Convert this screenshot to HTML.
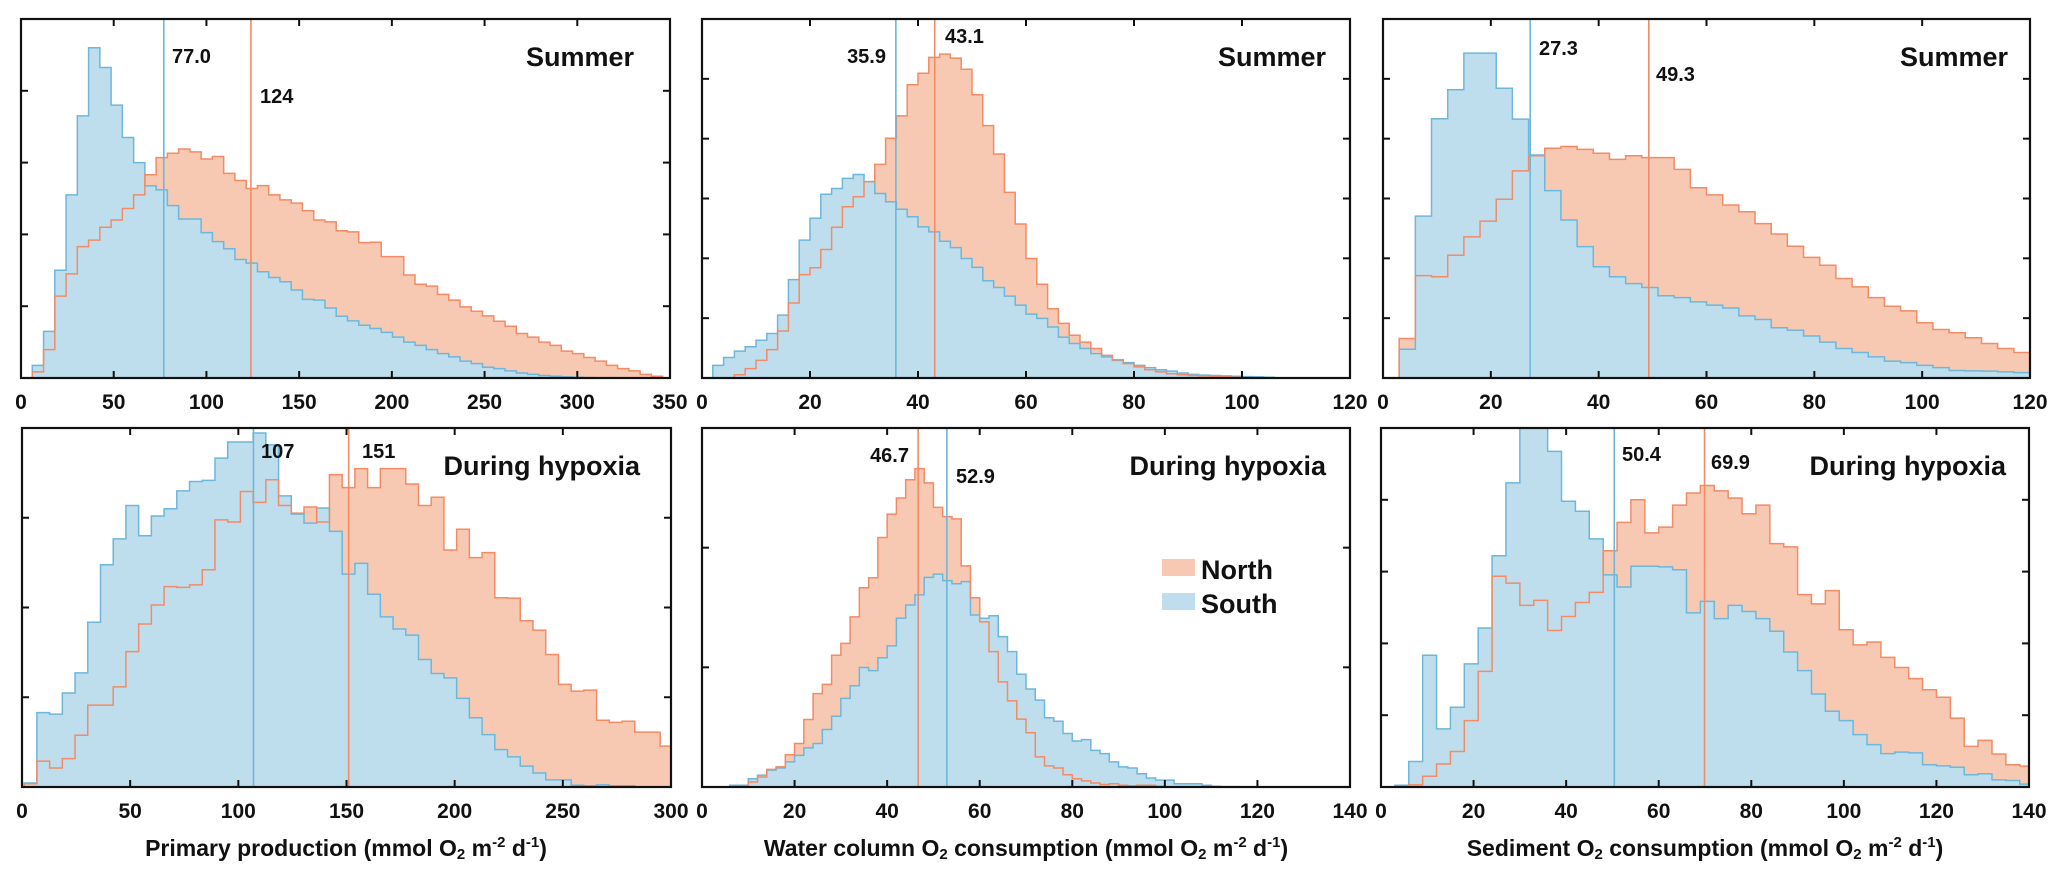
<!DOCTYPE html>
<html><head><meta charset="utf-8"><style>
html,body{margin:0;padding:0;background:#fff;}
svg{display:block;font-family:"Liberation Sans",Arial,sans-serif;}
</style></head><body>
<svg id="chart" width="2067" height="881" viewBox="0 0 2067 881" xmlns="http://www.w3.org/2000/svg"></svg>
<script>
// ---- data (values in % of axis height) ----
const p1Start = 6.1, p1Width = 6.07;
const p1South = [3.5,13,30,51,73,92,86.5,76,67,60,53.5,52.4,48,44.3,44.3,40.5,38,36,33,32,29.6,28,26.8,24.5,21.9,21.7,19.5,17.2,15.9,14.7,13.8,12.7,11.4,10,9.1,7.9,6.8,5.9,4.7,4,3,2.6,2,1.4,1,0.7,0.5,0.3,0.2,0.1];
const p1North = [1.7,7.9,22.8,29,36.6,38.4,42,44,47.2,51,56.6,61.4,62.6,63.8,63,61,61.7,57,55,52.8,53.6,51,49.6,48.7,46.6,44,43.5,41,40.7,37.7,37.8,33.8,33.8,28.7,26.1,25.6,23.3,21.7,19.8,18.6,17.3,15.8,14.4,12.4,11.4,10,9.1,7.5,6.8,5.7,4.7,3.5,2.6,2,1,0.5];
const p2Start = 2, p2Width = 2;
const p2South = [3.5,5.7,7.5,8.7,10.5,12.4,17.5,27.4,38.4,44.5,51.2,52.8,55.6,56.7,54.7,51.4,49.1,47,44.9,42.1,40.7,38.1,36.3,33.3,30.8,27.1,25.2,22.8,20.3,17.8,16.6,14.2,11.4,9.6,8.2,6.8,5.9,4.9,4.3,3.5,2.9,2.3,1.9,1.4,1,0.8,0.7,0.6,0.5,0.4,0.3,0.2];
const p2NorthStart = 6;
const p2North = [0.9,2.6,4.9,7.9,13.1,20.9,28.8,30.7,35.8,42,47.7,50.5,54.7,59.5,66.8,73,81.7,84.9,89.3,90.2,89.1,86,78.9,70.3,62.4,51.7,42.9,33.3,26.1,19.3,15.2,11.9,10,8.2,6.3,5.1,4,3.1,2.3,1.7,1.2,0.9,0.7,0.6,0.5,0.3,0.2];
const p3Start = 3, p3Width = 3;
const p3South = [8,45.1,72.2,80.3,90.5,90.5,80.7,72.1,62.1,52.2,44,36.6,31,28.2,26.3,25.2,22.9,22.4,21.2,20.3,19.5,17.3,16.3,14,13.3,11.7,10,8.2,7.1,5.9,4.7,4.3,3.5,2.9,2.1,2,1.9,1.7,1.5];
const p3North = [11,28.5,28.2,34.2,39.3,43.7,49.8,57.7,61.9,64,64.5,63.7,62.6,60.9,61.9,61.4,61.4,58.1,53,51,48.2,46.3,43,40.1,36.7,33.6,31.4,27.7,25.4,22.4,20,18.7,15.4,13.5,12.6,11.2,9.6,8.2,7.1];
const b1Start = 1.0, b1Width = 5.88;
const b1South = [1.1,20.7,20.3,26.2,31.8,45.9,61.9,69.1,78.4,70,75.5,77.5,82.5,85.1,85.4,91.6,96.1,96.1,98.6,95.3,81.1,76,73.5,77.7,71.2,59.3,62.3,53.7,47.4,44,42.3,35.5,31.6,30.4,24.7,19.3,14.6,10.4,8.4,5.8,3.9,2,2,0.5,0.3,0.6,0.3,0.3,0,0,0];
const b1North = [0.9,7.2,5.3,7.9,14.4,22.8,22.8,27.9,37.7,45.4,50.7,55.8,55.6,56.3,60.5,74.4,73.8,82.3,79.3,85.6,78.4,76.3,78,73.8,87,83.4,88.7,83.4,88.7,88.7,84.4,78.4,80.7,66,71.8,63.9,65.3,52.7,52.6,46.3,43.7,36.9,28.6,26.7,27,18.6,18,18.3,15.3,15.3,11.4];
const b2Start = 6, b2Width = 2;
const b2South = [0.5,0.5,2.3,3.3,4.7,5.3,7,8.8,10.9,12.1,16,19.7,24.7,28.2,33.3,32.4,36,39.3,47,50.7,53.5,58.4,59.3,57.5,56.6,57.2,47.9,47,47.7,41.9,37.7,31.4,27.3,24.2,19.3,18.3,14.9,12.8,13.2,10.2,9.3,7,5.6,5.3,3.7,2.5,1.9,1.9,0.9,0.9,0.9,0.5,0.2,0.1,0.1];
const b2North = [0.2,0.2,1.4,2.8,4.9,5.6,9,12.1,18.8,26,28.6,36.7,40,47.4,55.5,58.3,69.5,76,80.5,85.6,88.7,84.7,77.9,75.3,74.7,61.6,52.7,46,37.7,29.3,24,18.9,15.1,8.4,5.9,5.3,3.4,2.3,1.7,1.1,0.7,0.9,0.5,0.3,0.5,0.5,0.2];
const b3Start = 3, b3Width = 3;
const b3South = [0.5,7.1,36.7,16.2,22.2,34.3,44.3,64.4,84.7,105,105,93.5,79.6,76.8,69.1,59.1,55.7,61.5,61.5,61.3,60.5,48.5,51.7,46.9,50.6,48.9,46.9,43.4,37.6,32.4,25.9,21.1,18.5,14.6,11.8,9.3,9.7,9.5,6.2,5.9,5.5,3.4,3.7,2,1.8,0.8];
const b3North = [0.2,0.6,3,6.4,9.9,18.5,32.2,58.7,56.8,50.6,52,43.6,47.5,51.4,54.2,65.8,73.7,80,70.8,72.4,78.5,81.9,84,82.5,80.5,76.1,78.5,67.8,66.9,53.6,51,54.7,43.8,39.6,40.4,36.1,33.3,30.2,27.1,25,19.2,11.3,13,9.2,6.2,5.8];
const meansTop = [[77.0,124],[35.9,43.1],[27.3,49.3]];
const meansBottom = [[107,151],[52.9,46.7],[50.4,69.9]];

const NS='http://www.w3.org/2000/svg';
const svg=document.getElementById('chart');
function mk(tag,attrs,parent){const e=document.createElementNS(NS,tag);for(const k in attrs)e.setAttribute(k,attrs[k]);(parent||svg).appendChild(e);return e;}
const BLUE_F='#bfdeed',BLUE_S='#6db7da',OR_F='#f8c9b2',OR_S='#f28b66';
let clipId=0;

function stepPath(start,width,vals,xs,ys,B){
  let d='M'+xs(start)+','+B;
  vals.forEach((v,i)=>{d+=' L'+xs(start+i*width)+','+ys(v)+' L'+xs(start+(i+1)*width)+','+ys(v);});
  d+=' L'+xs(start+vals.length*width)+','+B+' Z';
  return d;
}

function panel(p){
  const g=mk('g',{});
  
  
  const xs=v=>p.L+(v/p.xmax)*(p.R-p.L);
  const ys=v=>p.B-(v/100)*(p.B-p.T);
  const cid='c'+(clipId++);
  const cp=mk('clipPath',{id:cid},g);mk('rect',{x:p.L,y:p.T,width:p.R-p.L,height:p.B-p.T},cp);
  const inner=mk('g',{'clip-path':'url(#'+cid+')'},g);
  const nf=mk('path',{d:stepPath(p.nStart,p.nWidth,p.north,xs,ys,p.B),fill:OR_F,stroke:'none'},inner);
  
  
  const sf=mk('path',{d:stepPath(p.sStart,p.sWidth,p.south,xs,ys,p.B),fill:BLUE_F,stroke:'none'},inner);
  
  
  const ss=mk('path',{d:stepPath(p.sStart,p.sWidth,p.south,xs,ys,p.B),fill:'none',stroke:BLUE_S,'stroke-width':1.5},inner);
  
  
  const nsx=mk('path',{d:stepPath(p.nStart,p.nWidth,p.north,xs,ys,p.B),fill:'none',stroke:OR_S,'stroke-width':1.5},inner);
  
  
  // mean lines
  const ml1=mk('line',{x1:xs(p.sMean),x2:xs(p.sMean),y1:p.T,y2:p.B,stroke:BLUE_S,'stroke-width':1.6},inner);
  
  
  const ml2=mk('line',{x1:xs(p.nMean),x2:xs(p.nMean),y1:p.T,y2:p.B,stroke:OR_S,'stroke-width':1.6},inner);
  
  
  // frame
  const fr=mk('rect',{x:p.L,y:p.T,width:p.R-p.L,height:p.B-p.T,fill:'none',stroke:'#111','stroke-width':2.2},g);
  
  
  // x ticks
  for(let v=0;v<=p.xmax+1e-9;v+=p.xstep){
    const x=xs(v);
    if(v>0&&v<p.xmax){
      mk('line',{x1:x,x2:x,y1:p.B,y2:p.B-7,stroke:'#111','stroke-width':2},g);
      mk('line',{x1:x,x2:x,y1:p.T,y2:p.T+7,stroke:'#111','stroke-width':2},g);
    }
    const t=mk('text',{x:x,y:p.B+31,'text-anchor':'middle','font-size':21,'font-weight':'bold',fill:'#111'},g);
    t.textContent=String(v);
    
    
  }
  for(let i=1;i<p.yInt;i++){
    const y=p.B-i*(p.B-p.T)/p.yInt;
    mk('line',{x1:p.L,x2:p.L+7,y1:y,y2:y,stroke:'#111','stroke-width':2},g);
    mk('line',{x1:p.R,x2:p.R-7,y1:y,y2:y,stroke:'#111','stroke-width':2},g);
  }
  p.labels.forEach(l=>{
    const t=mk('text',{x:l[1],y:l[2],'text-anchor':l[3],'font-size':l[4],'font-weight':'bold',fill:'#111'},g);
    t.textContent=l[0];
    
    
  });
  return g;
}

panel({name:'panel-pp-summer',L:21,R:670,T:19,B:378,xmax:350,xstep:50,yInt:5,
  sStart:p1Start,sWidth:p1Width,south:p1South,nStart:p1Start,nWidth:p1Width,north:p1North,
  sMean:meansTop[0][0],nMean:meansTop[0][1],
  labels:[['77.0',172,63,'start',20,'south-mean-label'],['124',260,103,'start',20,'north-mean-label'],['Summer',634,66,'end',27,'season-label']]});
panel({name:'panel-wc-summer',L:702,R:1350,T:19,B:378,xmax:120,xstep:20,yInt:6,
  sStart:p2Start,sWidth:p2Width,south:p2South,nStart:p2NorthStart,nWidth:p2Width,north:p2North,
  sMean:meansTop[1][0],nMean:meansTop[1][1],
  labels:[['35.9',886,63,'end',20,'south-mean-label'],['43.1',945,43,'start',20,'north-mean-label'],['Summer',1326,66,'end',27,'season-label']]});
panel({name:'panel-sed-summer',L:1383,R:2030,T:19,B:378,xmax:120,xstep:20,yInt:6,
  sStart:p3Start,sWidth:p3Width,south:p3South,nStart:p3Start,nWidth:p3Width,north:p3North,
  sMean:meansTop[2][0],nMean:meansTop[2][1],
  labels:[['27.3',1539,55,'start',20,'south-mean-label'],['49.3',1656,81,'start',20,'north-mean-label'],['Summer',2008,66,'end',27,'season-label']]});
panel({name:'panel-pp-hypoxia',L:22,R:671,T:428,B:787,xmax:300,xstep:50,yInt:4,
  sStart:b1Start,sWidth:b1Width,south:b1South,nStart:b1Start,nWidth:b1Width,north:b1North,
  sMean:meansBottom[0][0],nMean:meansBottom[0][1],
  labels:[['107',261,458,'start',20,'south-mean-label'],['151',362,458,'start',20,'north-mean-label'],['During hypoxia',640,475,'end',27,'season-label']]});
panel({name:'panel-wc-hypoxia',L:702,R:1350,T:428,B:787,xmax:140,xstep:20,yInt:3,
  sStart:b2Start,sWidth:b2Width,south:b2South,nStart:b2Start,nWidth:b2Width,north:b2North,
  sMean:meansBottom[1][0],nMean:meansBottom[1][1],
  labels:[['46.7',909,462,'end',20,'north-mean-label'],['52.9',956,483,'start',20,'south-mean-label'],['During hypoxia',1326,475,'end',27,'season-label']]});
panel({name:'panel-sed-hypoxia',L:1381,R:2029,T:428,B:787,xmax:140,xstep:20,yInt:5,
  sStart:b3Start,sWidth:b3Width,south:b3South,nStart:b3Start,nWidth:b3Width,north:b3North,
  sMean:meansBottom[2][0],nMean:meansBottom[2][1],
  labels:[['50.4',1622,461,'start',20,'south-mean-label'],['69.9',1711,469,'start',20,'north-mean-label'],['During hypoxia',2006,475,'end',27,'season-label']]});

// legend
const lg=mk('g',{});


const r1=mk('rect',{x:1162,y:559,width:33,height:17,fill:OR_F},lg);


const t1=mk('text',{x:1201,y:579,'font-size':27,'font-weight':'bold',fill:'#111'},lg);t1.textContent='North';


const r2=mk('rect',{x:1162,y:593,width:33,height:17,fill:BLUE_F},lg);


const t2=mk('text',{x:1201,y:613,'font-size':27,'font-weight':'bold',fill:'#111'},lg);t2.textContent='South';



// axis titles
const titles=[[346,'Primary production (mmol O','2',' m','-2',' d','-1',')'],[1026,'Water column O','2',' consumption (mmol O','2',' m','-2',' d','-1',')'],[1705,'Sediment O','2',' consumption (mmol O','2',' m','-2',' d','-1',')']];
</script>
<script>
(function(){
  const defs=[
    {x:346,html:'Primary production (mmol O<tspan font-size="15" dy="3">2</tspan><tspan dy="-3"> m</tspan><tspan font-size="15" dy="-9">-2</tspan><tspan dy="9"> d</tspan><tspan font-size="15" dy="-9">-1</tspan><tspan dy="9">)</tspan>'},
    {x:1026,html:'Water column O<tspan font-size="15" dy="3">2</tspan><tspan dy="-3"> consumption (mmol O</tspan><tspan font-size="15" dy="3">2</tspan><tspan dy="-3"> m</tspan><tspan font-size="15" dy="-9">-2</tspan><tspan dy="9"> d</tspan><tspan font-size="15" dy="-9">-1</tspan><tspan dy="9">)</tspan>'},
    {x:1705,html:'Sediment O<tspan font-size="15" dy="3">2</tspan><tspan dy="-3"> consumption (mmol O</tspan><tspan font-size="15" dy="3">2</tspan><tspan dy="-3"> m</tspan><tspan font-size="15" dy="-9">-2</tspan><tspan dy="9"> d</tspan><tspan font-size="15" dy="-9">-1</tspan><tspan dy="9">)</tspan>'}
  ];
  const svg=document.getElementById('chart');
  defs.forEach(d=>{
    const t=document.createElementNS('http://www.w3.org/2000/svg','text');
    t.setAttribute('x',d.x);t.setAttribute('y',856);
    t.setAttribute('text-anchor','middle');t.setAttribute('font-size','23');
    t.setAttribute('font-weight','bold');t.setAttribute('fill','#111');
    t.innerHTML=d.html;
    
    
    svg.appendChild(t);
  });
})();
</script>
</body></html>
